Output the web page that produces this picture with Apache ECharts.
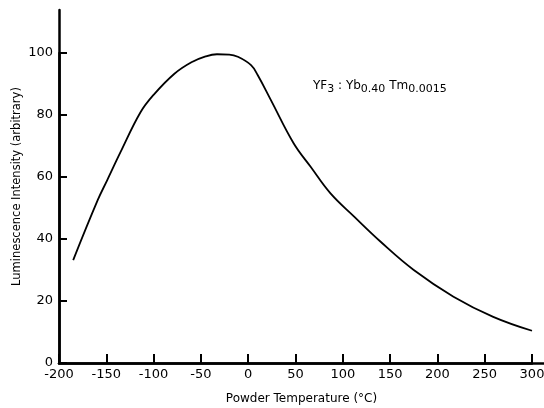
<!DOCTYPE html>
<html>
<head>
<meta charset="utf-8">
<script src="https://cdn.jsdelivr.net/npm/echarts@6/dist/echarts.min.js"></script>
<style>
html,body{margin:0;padding:0;background:#fff;}
#chart{width:544px;height:408px;}
</style>
</head>
<body>
<div id="chart"></div>
<script>
var temperatures = [-185, -159, -149, -135, -114, -100, -78, -60, -45, -33, -20, -11, 3, 10, 24, 48, 66, 87, 112, 140, 175, 217, 259, 300];
var intensities = [33.2, 52.6, 59, 68, 80.8, 86.5, 93.3, 97, 98.9, 99.6, 99.5, 98.8, 96.1, 92.9, 84.8, 70.9, 63.3, 54.7, 47.2, 39.1, 30, 21.4, 14.9, 10.4];
var xTicks = [-200, -150, -100, -50, 0, 50, 100, 150, 200, 250, 300];
var yTicks = [0, 20, 40, 60, 80, 100];
var xName = 'Powder Temperature (°C)';
var yName = 'Luminescence Intensity (arbitrary)';
var annotation = 'YF{s|3} : Yb{s|0.40} Tm{s|0.0015}';

var points = temperatures.map(function (t, i) { return [t, intensities[i]]; });
var font = 'DejaVu Sans';
var lineSty = {color: '#000', width: 2.5};
var tickSty = {color: '#000', width: 2};
var chart = echarts.init(document.getElementById('chart'), null, {renderer: 'canvas'});
chart.setOption({
  animation: false,
  backgroundColor: '#fff',
  grid: [
    {left: 59, right: 0, top: 10, bottom: 45, containLabel: false, outerBoundsMode: 'none'},
    {left: 59, right: 12, top: 53, bottom: 45, containLabel: false, outerBoundsMode: 'none'}
  ],
  xAxis: [{
    gridIndex: 0, type: 'value', min: -200, max: 312,
    name: xName, nameLocation: 'middle', nameGap: 30,
    nameTextStyle: {fontFamily: font, fontSize: 12, color: '#000'},
    axisLine: {show: true, onZero: false, lineStyle: lineSty},
    axisTick: {show: false}, axisLabel: {show: false}, splitLine: {show: false}
  }, {
    gridIndex: 1, type: 'value', min: xTicks[0], max: xTicks[xTicks.length - 1], interval: 50,
    axisLine: {show: true, onZero: false, lineStyle: lineSty},
    axisTick: {show: true, inside: true, length: 9, lineStyle: tickSty},
    axisLabel: {fontFamily: font, fontSize: 13, color: '#000', margin: 5},
    splitLine: {show: false}
  }],
  yAxis: [{
    gridIndex: 0, type: 'value', min: 0, max: 114,
    name: yName, nameLocation: 'middle', nameGap: 36,
    nameTextStyle: {fontFamily: font, fontSize: 11.5, color: '#000'},
    axisLine: {show: true, onZero: false, lineStyle: lineSty},
    axisTick: {show: false}, axisLabel: {show: false}, splitLine: {show: false}
  }, {
    gridIndex: 1, type: 'value', min: yTicks[0], max: yTicks[yTicks.length - 1], interval: 20,
    axisLine: {show: true, onZero: false, lineStyle: lineSty},
    axisTick: {show: true, inside: true, length: 8, lineStyle: tickSty},
    axisLabel: {fontFamily: font, fontSize: 13, color: '#000', margin: 6},
    splitLine: {show: false}
  }],
  series: [{
    type: 'line', xAxisIndex: 1, yAxisIndex: 1, data: points, smooth: 0.4, symbol: 'none',
    lineStyle: {color: '#000', width: 1.8}
  }],
  graphic: [{
    type: 'text', left: 313, top: 80,
    style: {
      text: annotation,
      fontFamily: font, fontSize: 12, fill: '#000', verticalAlign: 'top',
      rich: {
        s: {fontFamily: font, fontSize: 11, fill: '#000', verticalAlign: 'bottom', padding: [7, 0, 0, 0]}
      }
    }
  }]
});
</script>
</body>
</html>
